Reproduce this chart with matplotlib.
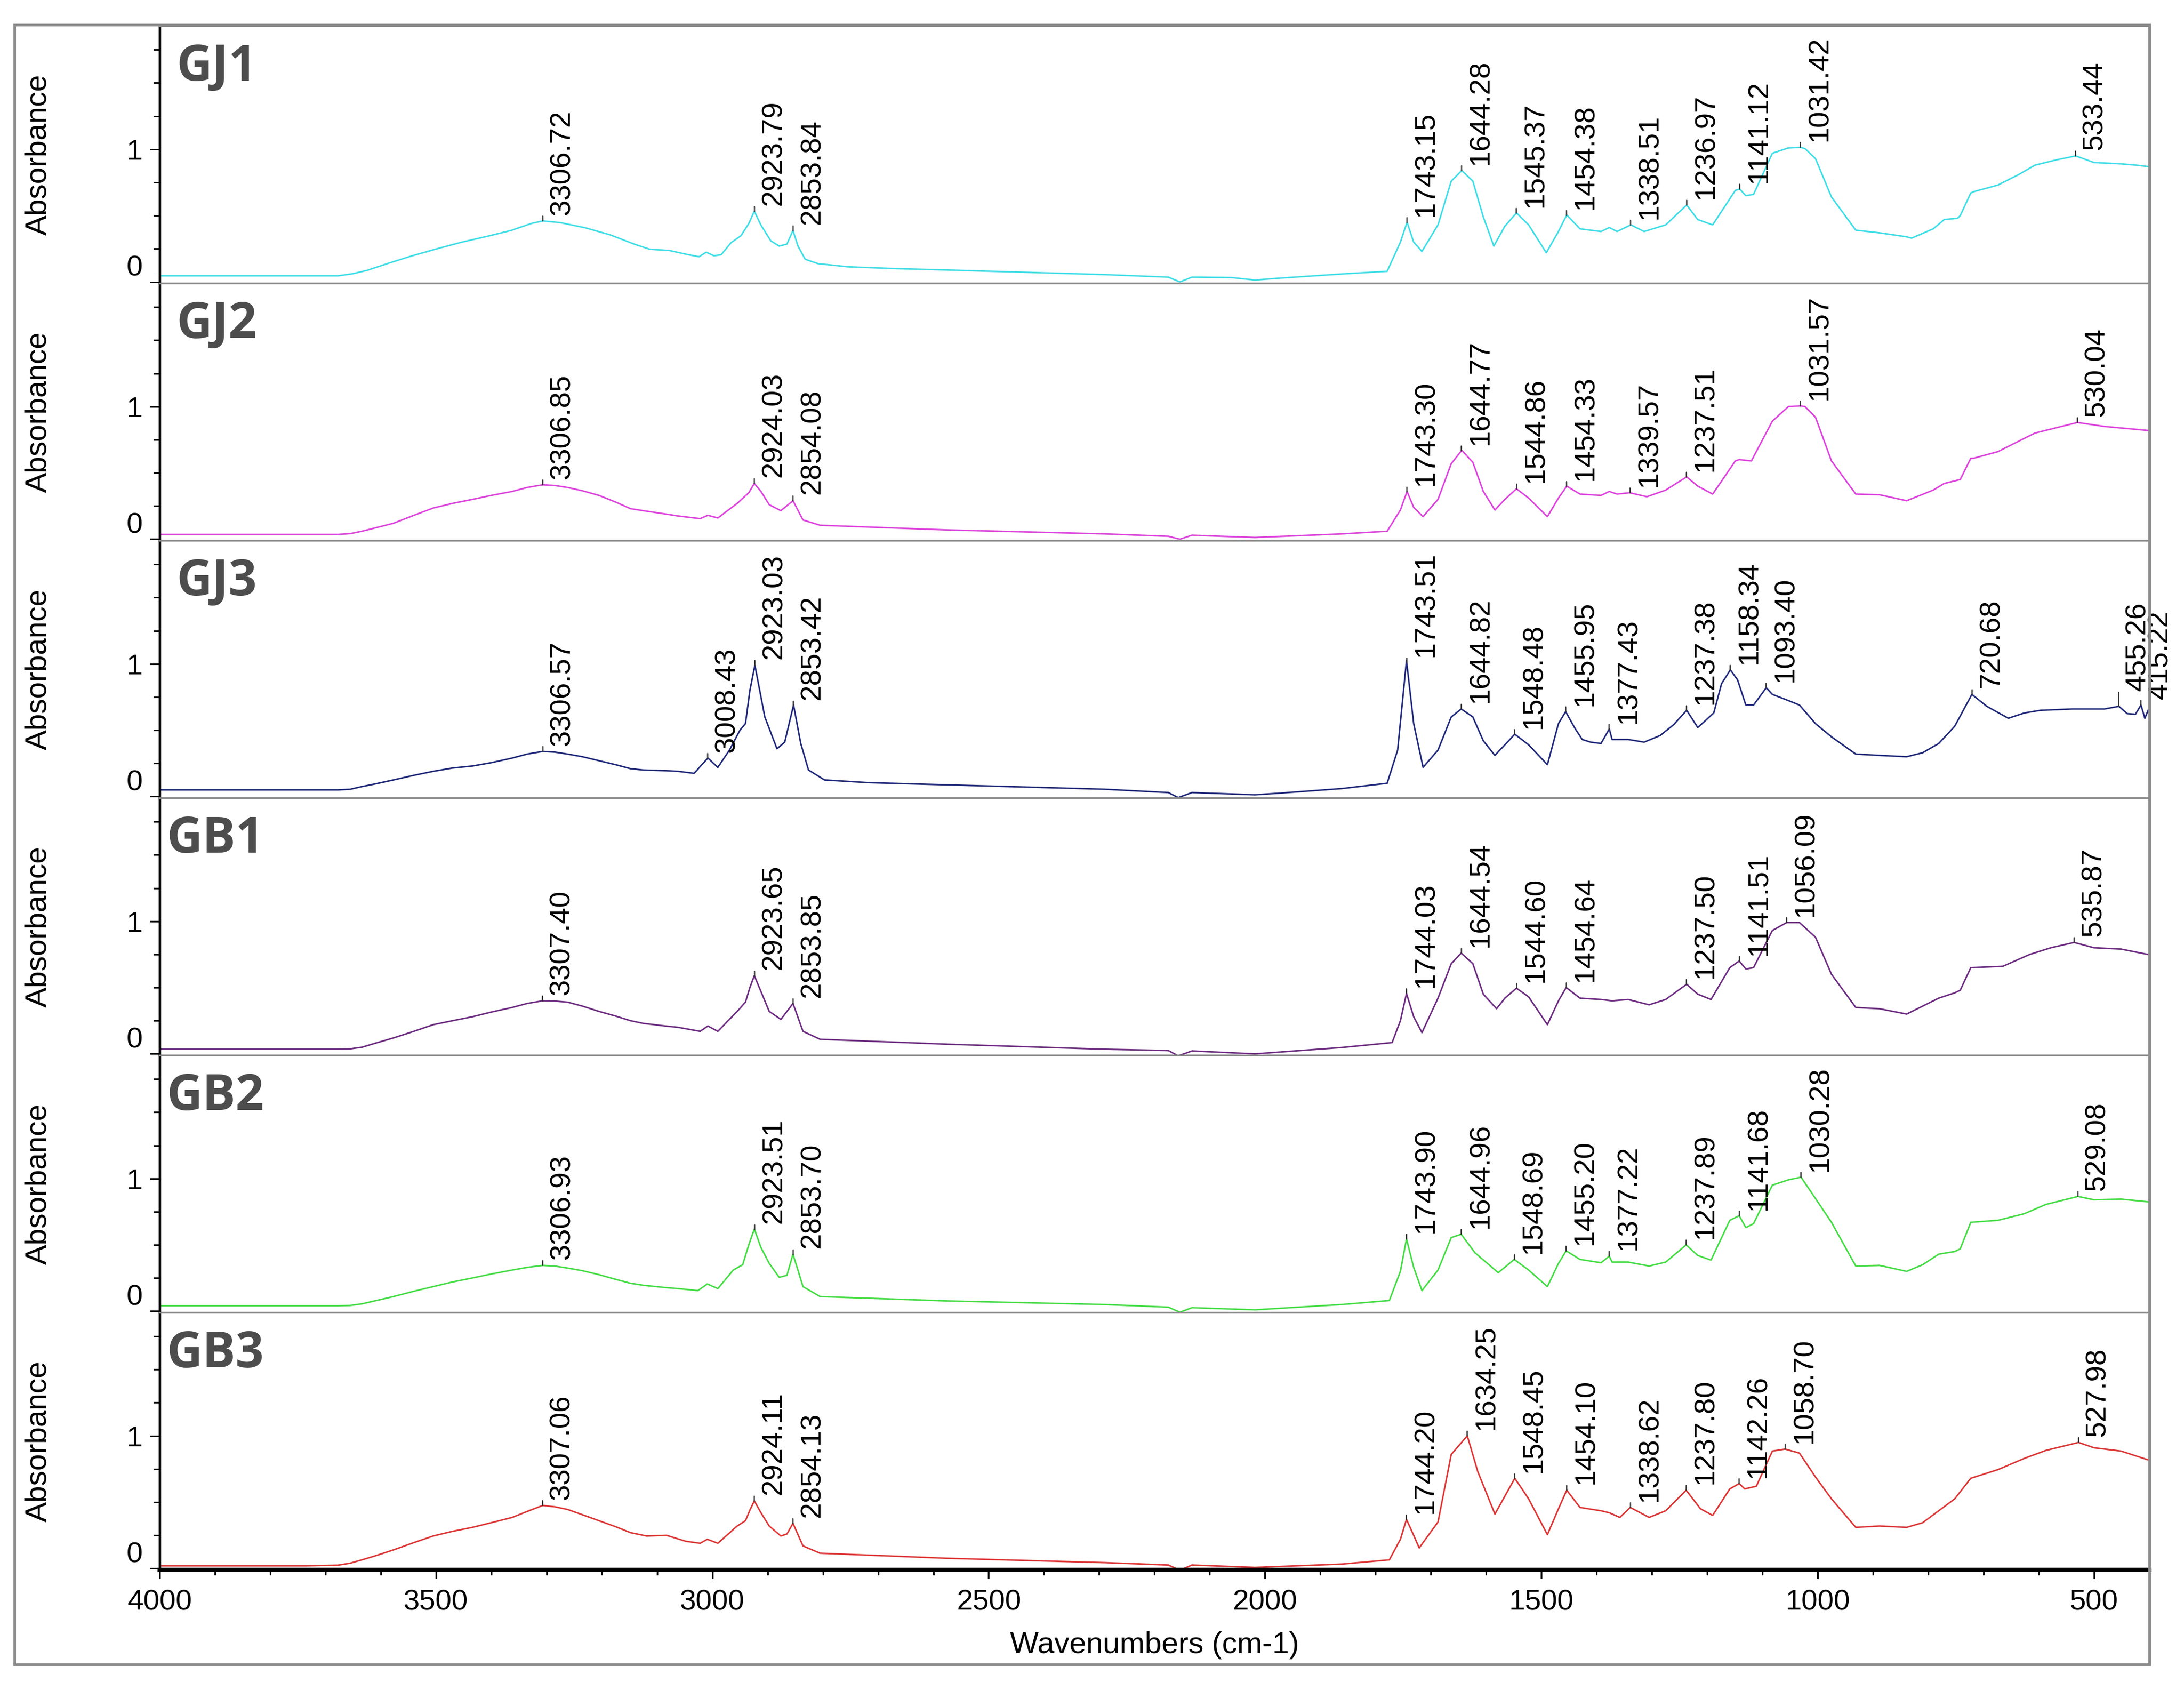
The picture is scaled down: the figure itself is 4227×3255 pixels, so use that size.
import matplotlib
matplotlib.use('Agg')
import matplotlib.pyplot as plt
import numpy as np
from matplotlib.ticker import MultipleLocator
from matplotlib.patches import Rectangle

plt.rcParams['font.family'] = ['Liberation Sans', 'DejaVu Sans']

# spectra: (wavenumber, absorbance)
gj1 = [(4000, 0.046), (3677, 0.046), (3650, 0.062), (3624, 0.088), (3588, 0.138),
       (3543, 0.197), (3498, 0.250), (3453, 0.300), (3409, 0.342), (3364, 0.388),
       (3328, 0.440), (3307, 0.460), (3275, 0.447), (3230, 0.408), (3185, 0.355),
       (3140, 0.283), (3113, 0.246), (3078, 0.237), (3042, 0.204), (3024, 0.190),
       (3011, 0.224), (2997, 0.197), (2984, 0.205), (2966, 0.296), (2948, 0.349),
       (2934, 0.440), (2924, 0.533), (2912, 0.428), (2894, 0.309), (2879, 0.270),
       (2865, 0.285), (2854, 0.388), (2845, 0.270), (2832, 0.171), (2809, 0.138),
       (2755, 0.114), (2666, 0.100), (2576, 0.090), (2290, 0.055), (2175, 0.036),
       (2154, 0.000), (2132, 0.036), (2061, 0.033), (2018, 0.014), (1975, 0.028),
       (1860, 0.060), (1779, 0.080), (1755, 0.300), (1743, 0.450), (1731, 0.300),
       (1716, 0.230), (1687, 0.430), (1663, 0.760), (1644, 0.840), (1624, 0.760),
       (1605, 0.490), (1586, 0.270), (1566, 0.420), (1545, 0.520), (1523, 0.430),
       (1491, 0.220), (1469, 0.380), (1454, 0.505), (1430, 0.400), (1392, 0.380),
       (1377, 0.410), (1363, 0.380), (1338, 0.430), (1314, 0.380), (1275, 0.430),
       (1237, 0.580), (1217, 0.470), (1190, 0.430), (1149, 0.690), (1141, 0.700),
       (1130, 0.650), (1116, 0.660), (1082, 0.970), (1053, 1.010), (1031, 1.015),
       (1023, 1.005), (1004, 0.930), (975, 0.640), (931, 0.390), (888, 0.370),
       (839, 0.340), (830, 0.330), (791, 0.400), (771, 0.470), (747, 0.480),
       (742, 0.500), (723, 0.670), (718, 0.680), (674, 0.730), (636, 0.810),
       (607, 0.880), (568, 0.920), (533, 0.950), (500, 0.900), (451, 0.890),
       (423, 0.880), (403, 0.870)]

gj2 = [(4000, 0.036), (3677, 0.036), (3655, 0.042), (3634, 0.060), (3610, 0.085),
       (3577, 0.120), (3540, 0.180), (3505, 0.235), (3470, 0.270), (3434, 0.300),
       (3400, 0.330), (3362, 0.360), (3335, 0.390), (3307, 0.410), (3285, 0.405),
       (3262, 0.390), (3235, 0.365), (3205, 0.330), (3175, 0.280), (3148, 0.230),
       (3125, 0.215), (3085, 0.190), (3062, 0.175), (3022, 0.155), (3008, 0.180),
       (2990, 0.160), (2955, 0.270), (2934, 0.350), (2924, 0.420), (2912, 0.360),
       (2897, 0.260), (2876, 0.215), (2854, 0.290), (2836, 0.145), (2805, 0.105),
       (2576, 0.070), (2290, 0.040), (2175, 0.022), (2154, 0.000), (2132, 0.030),
       (2018, 0.013), (1861, 0.040), (1779, 0.060), (1755, 0.220), (1743, 0.360),
       (1731, 0.240), (1714, 0.170), (1687, 0.300), (1663, 0.570), (1644, 0.670),
       (1624, 0.580), (1605, 0.360), (1584, 0.220), (1566, 0.300), (1545, 0.380),
       (1523, 0.310), (1489, 0.170), (1469, 0.310), (1454, 0.400), (1430, 0.340),
       (1392, 0.330), (1377, 0.360), (1363, 0.340), (1340, 0.350), (1309, 0.320),
       (1275, 0.370), (1237, 0.470), (1217, 0.400), (1190, 0.340), (1149, 0.590),
       (1142, 0.600), (1120, 0.590), (1082, 0.890), (1053, 1.000), (1031, 1.005),
       (1023, 1.000), (1004, 0.920), (975, 0.590), (931, 0.340), (888, 0.335),
       (839, 0.290), (791, 0.370), (771, 0.420), (742, 0.450), (723, 0.610),
       (718, 0.610), (674, 0.660), (607, 0.800), (530, 0.880), (481, 0.850),
       (403, 0.820)]

gj3 = [(4000, 0.050), (3677, 0.050), (3655, 0.055), (3634, 0.075), (3610, 0.095),
       (3577, 0.125), (3540, 0.160), (3505, 0.190), (3470, 0.215), (3434, 0.230),
       (3400, 0.255), (3362, 0.290), (3335, 0.320), (3307, 0.340), (3285, 0.335),
       (3262, 0.320), (3235, 0.300), (3205, 0.270), (3175, 0.240), (3148, 0.210),
       (3125, 0.200), (3085, 0.195), (3062, 0.190), (3033, 0.175), (3008, 0.290),
       (2990, 0.220), (2969, 0.350), (2950, 0.500), (2940, 0.550), (2932, 0.800),
       (2923, 0.990), (2905, 0.600), (2883, 0.360), (2869, 0.410), (2853, 0.690),
       (2840, 0.400), (2826, 0.200), (2797, 0.125), (2719, 0.105), (2576, 0.088),
       (2290, 0.055), (2175, 0.030), (2157, -0.008), (2132, 0.030), (2018, 0.013),
       (1975, 0.025), (1861, 0.060), (1779, 0.100), (1760, 0.350), (1744, 1.025),
       (1731, 0.550), (1714, 0.220), (1687, 0.350), (1663, 0.600), (1645, 0.660),
       (1624, 0.600), (1605, 0.420), (1584, 0.310), (1566, 0.390), (1548, 0.470),
       (1523, 0.390), (1489, 0.240), (1469, 0.550), (1456, 0.640), (1440, 0.520),
       (1426, 0.430), (1411, 0.410), (1392, 0.400), (1377, 0.510), (1372, 0.430),
       (1343, 0.430), (1314, 0.410), (1285, 0.460), (1261, 0.540), (1237, 0.650),
       (1217, 0.520), (1188, 0.630), (1174, 0.850), (1158, 0.955), (1145, 0.880),
       (1130, 0.690), (1116, 0.690), (1093, 0.820), (1082, 0.770), (1057, 0.730),
       (1033, 0.690), (1004, 0.550), (975, 0.450), (931, 0.320), (888, 0.310),
       (839, 0.300), (810, 0.330), (781, 0.400), (752, 0.530), (721, 0.770),
       (694, 0.680), (655, 0.590), (626, 0.630), (597, 0.650), (539, 0.660),
       (481, 0.660), (455, 0.680), (440, 0.625), (425, 0.620), (415, 0.690),
       (408, 0.590), (402, 0.650)]

gb1 = [(4000, 0.035), (3677, 0.035), (3655, 0.038), (3634, 0.050), (3610, 0.080),
       (3577, 0.120), (3540, 0.170), (3505, 0.220), (3470, 0.250), (3434, 0.280),
       (3400, 0.315), (3362, 0.350), (3335, 0.380), (3307, 0.400), (3285, 0.398),
       (3262, 0.390), (3235, 0.360), (3205, 0.320), (3175, 0.285), (3148, 0.250),
       (3125, 0.230), (3085, 0.210), (3062, 0.200), (3022, 0.170), (3008, 0.210),
       (2990, 0.170), (2955, 0.320), (2940, 0.390), (2932, 0.500), (2924, 0.590),
       (2912, 0.470), (2897, 0.320), (2876, 0.260), (2854, 0.380), (2836, 0.170),
       (2805, 0.110), (2576, 0.073), (2290, 0.035), (2175, 0.025), (2157, -0.015),
       (2132, 0.022), (2018, 0.000), (1861, 0.048), (1770, 0.085), (1755, 0.250),
       (1744, 0.455), (1731, 0.280), (1716, 0.160), (1687, 0.420), (1663, 0.680),
       (1645, 0.760), (1624, 0.680), (1605, 0.450), (1581, 0.340), (1566, 0.420),
       (1545, 0.495), (1523, 0.430), (1489, 0.220), (1469, 0.400), (1455, 0.500),
       (1430, 0.420), (1392, 0.410), (1372, 0.400), (1343, 0.410), (1305, 0.370),
       (1275, 0.410), (1237, 0.525), (1217, 0.450), (1193, 0.410), (1159, 0.650),
       (1142, 0.700), (1130, 0.640), (1116, 0.650), (1082, 0.930), (1056, 0.990),
       (1033, 0.990), (1004, 0.880), (975, 0.600), (931, 0.350), (888, 0.340),
       (839, 0.300), (810, 0.360), (781, 0.420), (752, 0.460), (742, 0.480),
       (723, 0.650), (665, 0.660), (616, 0.750), (578, 0.800), (536, 0.840),
       (500, 0.800), (451, 0.790), (403, 0.750)]

gb2 = [(4000, 0.040), (3677, 0.040), (3655, 0.043), (3634, 0.055), (3610, 0.078),
       (3577, 0.110), (3540, 0.150), (3505, 0.185), (3470, 0.220), (3434, 0.250),
       (3400, 0.280), (3362, 0.310), (3335, 0.330), (3307, 0.345), (3285, 0.340),
       (3262, 0.325), (3235, 0.305), (3205, 0.275), (3175, 0.240), (3148, 0.210),
       (3125, 0.195), (3085, 0.178), (3062, 0.170), (3026, 0.155), (3009, 0.205),
       (2990, 0.170), (2962, 0.310), (2945, 0.350), (2934, 0.500), (2924, 0.620),
       (2912, 0.480), (2897, 0.360), (2879, 0.255), (2865, 0.270), (2854, 0.430),
       (2836, 0.185), (2805, 0.110), (2576, 0.077), (2290, 0.050), (2175, 0.030),
       (2154, -0.008), (2132, 0.026), (2018, 0.010), (1861, 0.050), (1775, 0.080),
       (1755, 0.300), (1744, 0.545), (1731, 0.330), (1716, 0.155), (1687, 0.310),
       (1663, 0.555), (1645, 0.580), (1620, 0.440), (1578, 0.290), (1549, 0.390),
       (1523, 0.310), (1489, 0.185), (1469, 0.360), (1455, 0.455), (1430, 0.390),
       (1392, 0.365), (1377, 0.415), (1372, 0.370), (1343, 0.370), (1305, 0.340),
       (1275, 0.370), (1238, 0.500), (1217, 0.420), (1193, 0.385), (1159, 0.685),
       (1142, 0.720), (1130, 0.630), (1116, 0.660), (1082, 0.950), (1053, 0.990),
       (1030, 1.010), (1004, 0.850), (975, 0.670), (931, 0.340), (888, 0.345),
       (839, 0.300), (810, 0.350), (781, 0.430), (752, 0.450), (742, 0.470),
       (723, 0.670), (674, 0.685), (626, 0.735), (587, 0.805), (529, 0.865),
       (500, 0.840), (451, 0.845), (403, 0.825)]

gb3 = [(4000, 0.020), (3734, 0.020), (3677, 0.025), (3655, 0.040), (3634, 0.065),
       (3610, 0.095), (3577, 0.140), (3540, 0.195), (3505, 0.245), (3470, 0.280),
       (3434, 0.310), (3400, 0.345), (3362, 0.385), (3335, 0.430), (3307, 0.475),
       (3285, 0.465), (3262, 0.445), (3235, 0.405), (3205, 0.360), (3175, 0.315),
       (3148, 0.270), (3119, 0.245), (3083, 0.250), (3048, 0.205), (3022, 0.190),
       (3009, 0.220), (2990, 0.190), (2955, 0.320), (2940, 0.360), (2932, 0.440),
       (2924, 0.510), (2912, 0.420), (2897, 0.320), (2876, 0.245), (2865, 0.260),
       (2854, 0.340), (2836, 0.170), (2805, 0.115), (2576, 0.077), (2290, 0.044),
       (2175, 0.026), (2154, -0.013), (2132, 0.026), (2018, 0.008), (1861, 0.033),
       (1775, 0.065), (1755, 0.220), (1744, 0.370), (1731, 0.250), (1721, 0.155),
       (1687, 0.350), (1663, 0.860), (1634, 1.000), (1615, 0.730), (1584, 0.410),
       (1548, 0.680), (1523, 0.525), (1489, 0.255), (1469, 0.450), (1454, 0.590),
       (1430, 0.460), (1392, 0.435), (1377, 0.420), (1358, 0.385), (1339, 0.460),
       (1305, 0.385), (1275, 0.435), (1238, 0.590), (1212, 0.450), (1190, 0.400),
       (1159, 0.600), (1142, 0.640), (1132, 0.600), (1111, 0.620), (1082, 0.885),
       (1059, 0.900), (1033, 0.870), (1004, 0.690), (975, 0.525), (931, 0.310),
       (888, 0.320), (839, 0.310), (810, 0.345), (781, 0.435), (752, 0.525),
       (723, 0.680), (674, 0.745), (626, 0.830), (587, 0.890), (528, 0.950),
       (500, 0.910), (451, 0.885), (403, 0.820)]

# peak labels
gj1_peaks = ['3306.72', '2923.79', '2853.84', '1743.15', '1644.28', '1545.37', '1454.38',
             '1338.51', '1236.97', '1141.12', '1031.42', '533.44']
gj2_peaks = ['3306.85', '2924.03', '2854.08', '1743.30', '1644.77', '1544.86', '1454.33',
             '1339.57', '1237.51', '1031.57', '530.04']
gj3_peaks = ['3306.57', '3008.43', '2923.03', '2853.42', '1743.51', '1644.82', '1548.48',
             '1455.95', '1377.43', '1237.38', '1158.34', '1093.40', '720.68', '455.26', '415.22']
gb1_peaks = ['3307.40', '2923.65', '2853.85', '1744.03', '1644.54', '1544.60', '1454.64',
             '1237.50', '1141.51', '1056.09', '535.87']
gb2_peaks = ['3306.93', '2923.51', '2853.70', '1743.90', '1644.96', '1548.69', '1455.20',
             '1377.22', '1237.89', '1141.68', '1030.28', '529.08']
gb3_peaks = ['3307.06', '2924.11', '2854.13', '1744.20', '1634.25', '1548.45', '1454.10',
             '1338.62', '1237.80', '1142.26', '1058.70', '527.98']

names = ['GJ1', 'GJ2', 'GJ3', 'GB1', 'GB2', 'GB3']
spectra = [gj1, gj2, gj3, gb1, gb2, gb3]
peak_sets = [gj1_peaks, gj2_peaks, gj3_peaks, gb1_peaks, gb2_peaks, gb3_peaks]
colors = ['#3fdde6', '#dc44dc', '#1f2878', '#6c2c80', '#45dc45', '#dc3636']

long_ticks = {('GJ3', '455.26'): 6.5}

fig, axes = plt.subplots(6, 1, sharex=True, figsize=(4227 / 300, 3255 / 300), dpi=300)
fig.subplots_adjust(left=0.0731, right=0.9841, bottom=0.0667, top=0.9846, hspace=0)

for i, (ax, name, spec, pks, col) in enumerate(zip(axes, names, spectra, peak_sets, colors)):
    wn, ab = np.array(spec).T
    ax.plot(wn, ab, color=col, lw=0.7)
    ax.set_xlim(4000, 400)
    ax.set_ylim(-0.01, 1.93)

    ax.set_yticks([0, 1], labels=['0', '1'])
    ax.yaxis.set_minor_locator(MultipleLocator(0.25))
    ax.get_yticklabels()[0].set_va('bottom')
    ax.tick_params(axis='y', which='major', length=4.5, width=0.7, pad=3.4, labelsize=13.5)
    ax.tick_params(axis='y', which='minor', length=3, width=0.7)
    ax.set_ylabel('Absorbance', fontsize=14)
    ax.yaxis.set_label_coords(-0.054, 0.5)

    for side in ['top', 'right', 'bottom']:
        ax.spines[side].set_color('#8a8a8a')
        ax.spines[side].set_linewidth(0.8)
    ax.spines['left'].set_color('black')
    ax.spines['left'].set_linewidth(1.1)

    lx = 0.0085 if name.startswith('GJ') else 0.0035
    ax.text(lx, 0.936, name, transform=ax.transAxes, fontsize=23, fontweight='bold',
            family=['Open Sans', 'DejaVu Sans'], color='#4d4d4d', ha='left', va='top')

    for lab in pks:
        x = float(lab)
        y = np.interp(x, wn[::-1], ab[::-1])
        tl = long_ticks.get((name, lab), 2.2)
        ax.annotate('', xy=(x, y), xytext=(0, tl), textcoords='offset points',
                    arrowprops=dict(arrowstyle='-', color='#333333', lw=0.6,
                                    shrinkA=0, shrinkB=0))
        ax.annotate(lab, xy=(x, y), xytext=(2.8, tl + 0.6), textcoords='offset points',
                    rotation=90, ha='left', va='bottom', fontsize=13.5,
                    annotation_clip=False)

    if i < 5:
        ax.tick_params(axis='x', which='both', bottom=False, labelbottom=False)

bax = axes[-1]
bax.spines['bottom'].set_color('black')
bax.spines['bottom'].set_linewidth(2.0)
bax.xaxis.set_major_locator(MultipleLocator(500))
bax.xaxis.set_minor_locator(MultipleLocator(100))
bax.tick_params(axis='x', which='major', length=4, width=0.8, pad=5, labelsize=13.5)
bax.tick_params(axis='x', which='minor', length=2.3, width=0.7)
bax.set_xlabel('Wavenumbers (cm-1)', fontsize=14, labelpad=7)

fig.add_artist(Rectangle((0.0066, 0.0105), 0.9841 - 0.0066, 0.98525 - 0.0105,
                         transform=fig.transFigure, fill=False,
                         edgecolor='#8c8c8c', lw=1.2))

fig.savefig('out.png', dpi=300)
